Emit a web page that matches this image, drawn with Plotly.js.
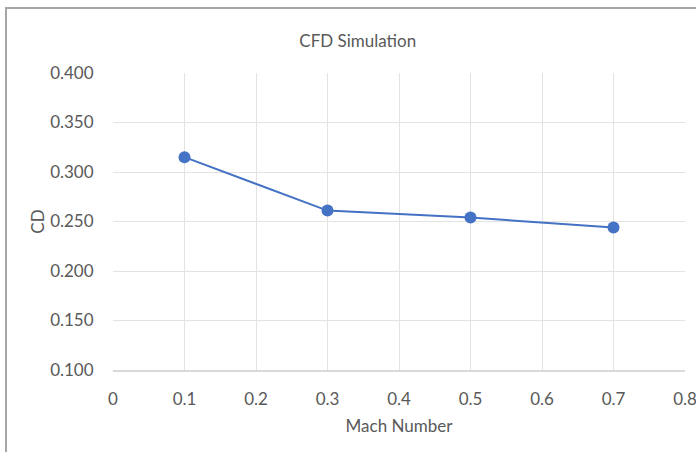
<!DOCTYPE html>
<html>
<head>
<meta charset="utf-8">
<script src="https://cdn.plot.ly/plotly-3.0.1.min.js"></script>
<style>
  html, body { margin: 0; padding: 0; width: 696px; height: 452px; overflow: hidden; background: #fff; }
  #frame { position: absolute; left: 5px; top: 7px; width: 720px; height: 480px; border: 2px solid #a6a6a6; box-sizing: border-box; }
  #chart { position: absolute; left: 0; top: 0; width: 696px; height: 452px; }
</style>
</head>
<body>
<div id="frame"></div>
<div id="chart"></div>
<script>
// Drag coefficient from the CFD runs at each Mach number
const machNumber = [0.1, 0.3, 0.5, 0.7];
const dragCoefficient = [0.315, 0.261, 0.254, 0.244];
const xTicks = [0, 0.1, 0.2, 0.3, 0.4, 0.5, 0.6, 0.7, 0.8];
const xTickText = ['0', '0.1', '0.2', '0.3', '0.4', '0.5', '0.6', '0.7', '0.8'];
const yTicks = [0.1, 0.15, 0.2, 0.25, 0.3, 0.35, 0.4];
const yTickText = ['0.100', '0.150', '0.200', '0.250', '0.300', '0.350', '0.400'];

const fontFamily = 'Lato, "Open Sans", sans-serif';
const textColor = '#595959';
const fontSize = 17;

const trace = {
  x: machNumber,
  y: dragCoefficient,
  type: 'scatter',
  mode: 'lines+markers',
  line: { color: '#4472C4', width: 2 },
  marker: { color: '#4472C4', size: 12 },
  hoverinfo: 'x+y'
};

const layout = {
  width: 696,
  height: 452,
  margin: { l: 113, r: 11, t: 73, b: 82 },
  paper_bgcolor: 'rgba(0,0,0,0)',
  plot_bgcolor: 'rgba(0,0,0,0)',
  showlegend: false,
  font: { family: fontFamily, color: textColor, size: fontSize },
  title: {
    text: 'CFD Simulation',
    font: { family: fontFamily, size: fontSize, color: textColor },
    x: 0.514, xanchor: 'center', xref: 'container',
    y: 0.909, yref: 'container', yanchor: 'middle'
  },
  xaxis: {
    range: [0, 0.8],
    tickvals: xTicks,
    ticktext: xTickText,
    ticklabeloverflow: 'allow',
    showgrid: true,
    gridcolor: '#e3e3e3',
    gridwidth: 1,
    zeroline: false,
    showline: true,
    linecolor: '#d9d9d9',
    linewidth: 2,
    ticks: 'outside',
    ticklen: 13,
    tickcolor: 'rgba(0,0,0,0)',
    tickfont: { family: fontFamily, size: fontSize, color: textColor },
    title: { text: 'Mach Number', font: { family: fontFamily, size: fontSize, color: textColor }, standoff: 12 }
  },
  yaxis: {
    range: [0.1, 0.4],
    tickvals: yTicks,
    ticktext: yTickText,
    showgrid: true,
    gridcolor: '#e3e3e3',
    gridwidth: 1,
    zeroline: false,
    showline: false,
    ticks: 'outside',
    ticklen: 15,
    tickcolor: 'rgba(0,0,0,0)',
    tickfont: { family: fontFamily, size: fontSize, color: textColor },
    title: { text: 'CD', font: { family: fontFamily, size: fontSize, color: textColor }, standoff: 1 }
  }
};

Plotly.newPlot('chart', [trace], layout, { displayModeBar: false, staticPlot: true });
</script>
</body>
</html>
